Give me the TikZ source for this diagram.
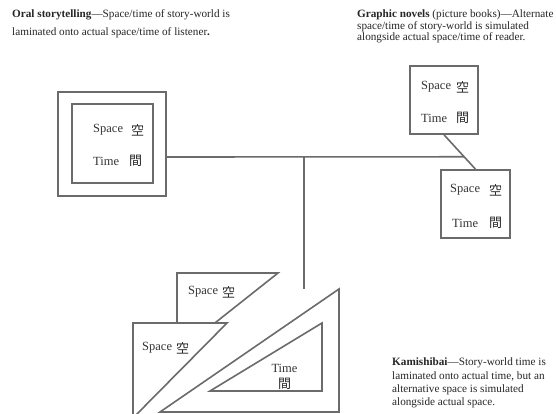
\documentclass[tikz,border=0pt]{standalone}
\usepackage{fontspec}
\setmainfont{Liberation Serif}
\newfontfamily\cjk{Noto Sans CJK JP}
\usetikzlibrary{calc}
\definecolor{linegray}{gray}{0.42}
\tikzset{
 ln/.style={draw=linegray, line width=1.6pt},
 box/.style={draw=linegray, line width=1.6pt, fill=white, inner sep=0pt},
 tri/.style={draw=linegray, line width=1.6pt, fill=white, line join=miter},
 desc/.style={anchor=base west, inner sep=0pt, font=\fontsize{11.2}{13}\selectfont, text=black!85},
 lab/.style={anchor=west, inner sep=0pt, font=\fontsize{12.5}{14}\selectfont, text=black!80},
 cj/.style={anchor=west, inner sep=0pt, font=\fontsize{13}{14}\selectfont\cjk, text=black!85},
 labc/.style={anchor=center, inner sep=0pt, font=\fontsize{12.5}{14}\selectfont, text=black!80},
 cjc/.style={anchor=center, inner sep=0pt, font=\fontsize{13}{14}\selectfont\cjk, text=black!85},
}
\begin{document}
\begin{tikzpicture}[x=1pt,y=-1pt]
\useasboundingbox (0,0) rectangle (556,414);
\clip (0,0) rectangle (556,414);
\fill[white] (0,0) rectangle (556,414);

% boxes
\node[box, minimum width=108pt, minimum height=104pt] (outer) at (112,144) {};
\node[box, minimum width=81pt, minimum height=79pt] (inner) at (112.5,143.5) {};
\node[box, minimum width=68pt, minimum height=68pt] (A) at (444,100) {};
\node[box, minimum width=69pt, minimum height=68pt] (B) at (475.5,204) {};

% connectors
\coordinate (J) at (304,157);
\coordinate (V) at (304,289);
\draw[ln] (A.south) -- (B.north);
\draw[ln] (outer.east |- J) -- ($(A.south)!0.639!(B.north)$);
\draw[ln] (J) -- (V);

% triangles
\draw[tri] (177,273) -- (278,273) -- (177,353) -- cycle;
\draw[tri] (133,323) -- (227,323) -- (133,418) -- cycle;
\draw[tri] (339,289) -- (339,412) -- (160,412) -- cycle;
\draw[tri] (322,323) -- (322,391) -- (210,391) -- cycle;

% box labels
\node[lab] (s1) at (93,130) {Space};
\node[cj]  (c1) at (131,130) {空};
\node[lab] (t1) at (93,161) {Time};
\node[cj]  (c2) at (129,161) {間};

\node[lab] (s2) at (421,87) {Space};
\node[cj]  (c3) at (456,87) {空};
\node[lab] (t2) at (421,118) {Time};
\node[cj]  (c4) at (456,118) {間};

\node[lab] (s3) at (450,190) {Space};
\node[cj]  (c5) at (489,190) {空};
\node[lab] (t3) at (452,223) {Time};
\node[cj]  (c6) at (489,223) {間};

% triangle labels
\node[lab] (s4) at (188,292) {Space};
\node[cj]  (c7) at (222,292) {空};
\node[lab] (s5) at (142,348) {Space};
\node[cj]  (c8) at (176,348) {空};
\node[labc] (t4) at (284.5,368) {Time};
\node[cjc]  (c9) at (284.5,384) {間};

% descriptions
\node[desc] (oral1) at (12,17.5) {\textbf{Oral storytelling}---Space/time of story-world is};
\node[desc] (oral2) at (12,36) {laminated onto actual space/time of listener\textbf{.}};

\node[desc] (gn1) at (357,18) {\textbf{Graphic novels} (picture books)---Alternate};
\node[desc] (gn2) at (357,29.5) {space/time of story-world is simulated};
\node[desc] (gn3) at (357,41) {alongside actual space/time of reader.};

\node[desc] (ka1) at (392,365.5) {\textbf{Kamishibai}---Story-world time is};
\node[desc] (ka2) at (392,379) {laminated onto actual time, but an};
\node[desc] (ka3) at (392,392.5) {alternative space is simulated};
\node[desc] (ka4) at (392,405) {alongside actual space.};
\end{tikzpicture}
\end{document}
